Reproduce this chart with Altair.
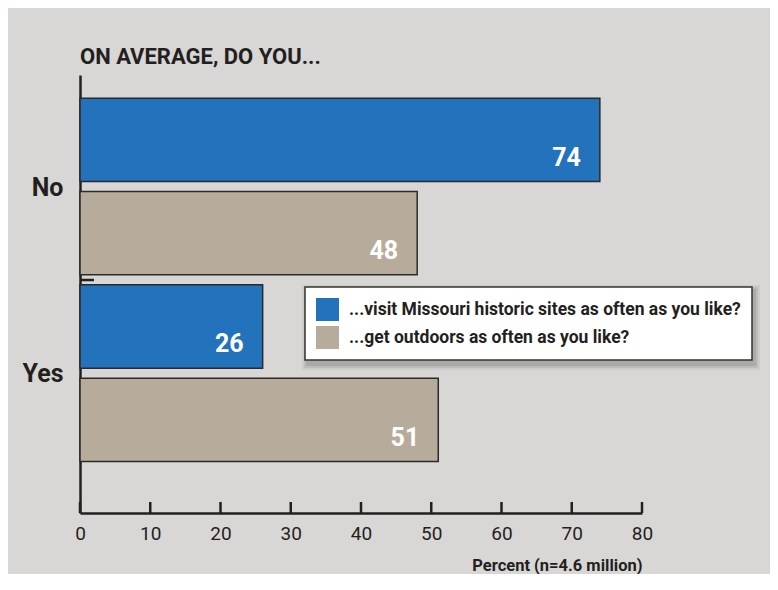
import altair as alt
import pandas as pd

# ---- data ----
responses = ["No", "Yes"]
series_names = [
    "...visit Missouri historic sites as often as you like?",
    "...get outdoors as often as you like?",
]
visit_values = [74, 26]
outdoor_values = [48, 51]
x_ticks = [0, 10, 20, 30, 40, 50, 60, 70, 80]
colors = ["#2273bc", "#b7ac9b"]

FONT = "Roboto, Liberation Sans, sans-serif"
INK = "#231f20"
W, H = 562, 438

rows = []
for i, r in enumerate(responses):
    rows.append({"key": f"{r}|visit", "series": series_names[0], "value": visit_values[i]})
    rows.append({"key": f"{r}|outdoors", "series": series_names[1], "value": outdoor_values[i]})
df = pd.DataFrame(rows)
order = list(df["key"])

yscale = alt.Scale(paddingInner=0.107, paddingOuter=0.4, align=0.31)

base = alt.Chart(df)

bars = base.mark_bar(stroke="#2a2a2a", strokeWidth=1.5).encode(
    x=alt.X(
        "value:Q",
        scale=alt.Scale(domain=[0, 80], nice=False),
        axis=alt.Axis(
            values=x_ticks,
            ticks=False,
            grid=False,
            labelFlush=False,
            domainColor=INK,
            domainWidth=2.5,
            labelFont=FONT,
            labelFontSize=19,
            labelColor=INK,
            labelPadding=11,
            title="Percent (n=4.6 million)",
            titleFont=FONT,
            titleFontSize=16.5,
            titleFontWeight="bold",
            titleColor=INK,
            titleAnchor="end",
            titlePadding=14,
        ),
    ),
    y=alt.Y(
        "key:N",
        sort=order,
        scale=yscale,
        axis=alt.Axis(
            title=None,
            ticks=False,
            grid=False,
            domainColor=INK,
            domainWidth=2.5,
            labelExpr="indexof(datum.value, '|visit') > 0 ? split(datum.value, '|')[0] : ''",
            labelOffset=48,
            labelPadding=17,
            labelFont=FONT,
            labelFontSize=25,
            labelFontWeight="bold",
            labelColor=INK,
        ),
    ),
    color=alt.Color(
        "series:N",
        sort=series_names,
        scale=alt.Scale(domain=series_names, range=colors),
        legend=alt.Legend(
            title=None,
            orient="none",
            legendX=225,
            legendY=212,
            fillColor="white",
            strokeColor="#333333",
            padding=11,
            symbolType="square",
            symbolSize=529,
            symbolStrokeWidth=0,
            symbolOpacity=1,
            labelFont=FONT,
            labelFontSize=17.5,
            labelFontWeight="bold",
            labelColor=INK,
            labelLimit=700,
            labelOffset=10,
            rowPadding=5,
        ),
    ),
)

labels = base.mark_text(
    align="right", baseline="middle", dx=-19, dy=18,
    color="white", font=FONT, fontWeight="bold", fontSize=25,
).encode(
    x="value:Q",
    y=alt.Y("key:N", sort=order),
    text="value:Q",
)

ticks = alt.Chart(pd.DataFrame({"t": x_ticks})).mark_rule(
    color=INK, strokeWidth=2.5
).encode(
    x="t:Q",
    y=alt.value(H - 11),
    y2=alt.value(H),
)

# small inward tick on the y axis between the two groups (decoration)
group_tick = alt.Chart(pd.DataFrame({"s": [0]})).mark_rule(color=INK, strokeWidth=2.5).encode(
    x=alt.value(0), x2=alt.value(14), y=alt.value(205)
)

# soft drop shadow behind the legend box (decoration)
shadow_layers = []
for k, op in [(7, 0.08), (5, 0.10), (3, 0.14)]:
    shadow_layers.append(
        alt.Chart(pd.DataFrame({"s": [0]})).mark_rect(color="#3f3d3b", opacity=op).encode(
            x=alt.value(225 - k + 4), x2=alt.value(671 + k + 2),
            y=alt.value(212 - k + 5), y2=alt.value(285 + k + 3),
        )
    )

chart = alt.layer(*shadow_layers, bars, labels, ticks, group_tick).properties(
    width=W,
    height=H,
    autosize=alt.AutoSizeParams(type="none"),
    padding={"left": 72, "top": 67, "right": 128, "bottom": 61},
    background="#d9d7d5",
    title=alt.TitleParams(
        "ON AVERAGE, DO YOU...",
        anchor="start",
        frame="group",
        font=FONT,
        fontSize=22,
        fontWeight="bold",
        color=INK,
        offset=6,
    ),
).configure_view(stroke=None).configure_legend(strokeWidth=1.5)

chart.save("out.html", embed_options={"renderer": "svg", "actions": False})
